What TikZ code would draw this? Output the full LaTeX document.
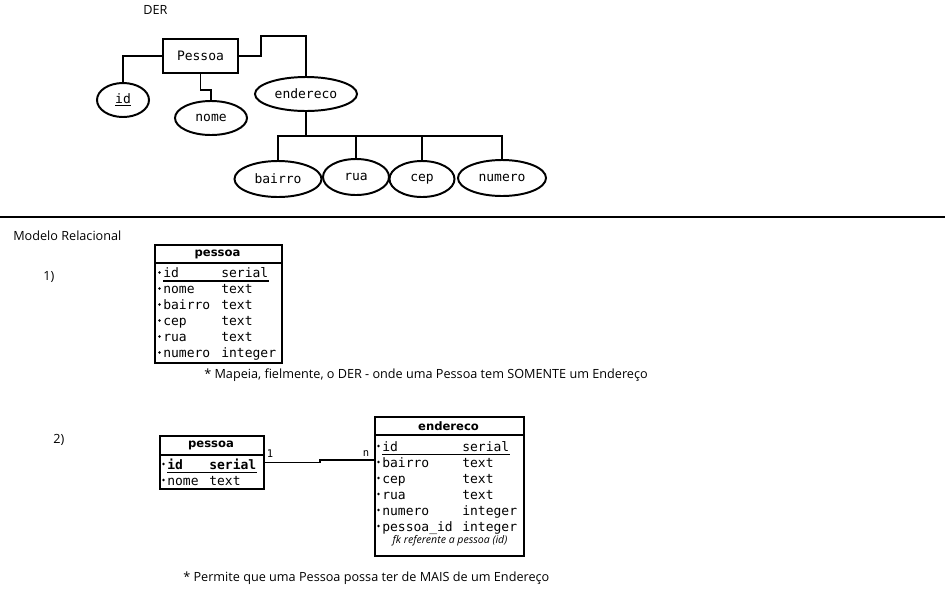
\documentclass[tikz,border=0pt]{standalone}
\usepackage{fontspec}
\setmainfont{Open Sans}
\newfontfamily\monofont{DejaVu Sans Mono}
\newfontfamily\headfont{DejaVu Sans}
\usetikzlibrary{positioning,calc,shapes.geometric}
\newcommand{\monosize}{\monofont\fontsize{9.25}{11}\selectfont}
\tikzset{
  erline/.style={line width=1.4pt},
  entitybox/.style={draw,line width=1.4pt,minimum width=1.875cm,minimum height=0.85cm,font=\monosize},
  attrell/.style={draw,ellipse,line width=1.4pt,minimum height=0.85cm,inner sep=0pt,font=\monosize},
  tableframe/.style={draw,line width=1.4pt,anchor=north west,inner sep=0pt},
  tablerule/.style={line width=1.4pt},
  tablehead/.style={font=\headfont\bfseries\fontsize{8.25}{10}\selectfont,inner sep=0pt},
  fieldname/.style={anchor=base west,inner sep=0pt,font=\monosize},
  keyline/.style={line width=0.75pt},
  fknote/.style={inner sep=0pt,font=\itshape\fontsize{7.5}{9}\selectfont},
  cardlabel/.style={inner sep=0pt,font=\monofont\fontsize{7.5}{9}\selectfont},
  plaintext/.style={anchor=west,inner sep=0pt,font=\fontsize{9}{11}\selectfont}
}

\begin{document}
\begin{tikzpicture}[x=0.025cm,y=-0.025cm]
  \useasboundingbox (0,0) rectangle (947,588);
  % DER
  \node[plaintext] (dertitle) at (143,10) {DER};
  \node[entitybox] (pessoa) at (200.5,56) {Pessoa};
  \node[attrell,minimum width=1.3cm] (id) at (123,100) {\underline{id}};
  \node[attrell,minimum width=1.8cm] (nome) at (211,118) {nome};
  \node[attrell,minimum width=2.55cm] (endereco) at (306,94) {endereco};
  \node[attrell,minimum width=2.175cm,minimum height=0.9cm] (bairro) at (278,179) {bairro};
  \node[attrell,minimum width=1.65cm,minimum height=0.9cm] (rua) at (356,177) {rua};
  \node[attrell,minimum width=1.625cm,minimum height=0.9cm] (cep) at (422,179) {cep};
  \node[attrell,minimum width=2.2cm,minimum height=0.9cm] (numero) at (502,178) {numero};
  \draw[erline] (pessoa.west) -| (id.north);
  \draw[erline] (pessoa.south) -- ++(0,16) -| (nome.north);
  \draw[erline] (pessoa.east) -- ++(22,0) -- ++(0,-20) -| (endereco.north);
  \coordinate (bus) at ($(endereco.south)+(0,24)$);
  \draw[erline] (endereco.south) -- (bus);
  \draw[erline] (bairro.north) |- (bus) -| (numero.north);
  \draw[erline] (rua.north) -- (rua.north |- bus);
  \draw[erline] (cep.north) -- (cep.north |- bus);

  \draw[line width=1.4pt] (0,217) -- (945,217);

  % Modelo Relacional
  \node[plaintext] (reltitle) at (13,236) {Modelo Relacional};
  \node[plaintext] (opt1) at (43,277) {1)};
  \node[plaintext] (opt2) at (53,440) {2)};

  % 1) uma tabela
  \node[tableframe,minimum width=3.175cm,minimum height=2.95cm] (ta) at (154,244) {};
  \node[tablehead] (tahead) at (217.5,254) {pessoa};
  \coordinate (tasep) at (154,263);
  \draw[tablerule] (tasep) -- (tasep -| ta.east);
  \foreach \fname/\ftype [count=\i from 0] in {id/serial,nome/text,bairro/text,cep/text,rua/text,numero/integer}{
    \node[fieldname] (taf\i) at (163,277.5+16*\i) {\fname};
    \node[fieldname] (tat\i) at (221,277.5+16*\i) {\ftype};
    \fill ($(taf\i.base west)+(-3.5,-5)$) circle (1.05pt);
  }
  \draw[keyline] ($(taf0.base west)+(0,3.5)$) -- ($(tat0.base east)+(0,3.5)$);
  \node[plaintext] (note1) at (204,375) {* Mapeia, fielmente, o DER - onde uma Pessoa tem SOMENTE um Endereço};

  % 2) duas tabelas
  \node[tableframe,minimum width=2.6cm,minimum height=1.325cm] (tb) at (159,435) {};
  \node[tablehead] (tbhead) at (211,445) {pessoa};
  \coordinate (tbsep) at (159,455);
  \draw[tablerule] (tbsep) -- (tbsep -| tb.east);
  \node[fieldname,font=\monosize\bfseries] (tbf0) at (167,469) {id};
  \node[fieldname,font=\monosize\bfseries] (tbt0) at (209,469) {serial};
  \node[fieldname] (tbf1) at (167,485) {nome};
  \node[fieldname] (tbt1) at (209,485) {text};
  \foreach \i in {0,1}{
    \fill ($(tbf\i.base west)+(-3.5,-5)$) circle (1.05pt);
  }
  \draw[keyline] ($(tbf0.base west)+(0,3.5)$) -- ($(tbt0.base east)+(0,3.5)$);

  \node[tableframe,minimum width=3.725cm,minimum height=3.475cm] (tc) at (374,416) {};
  \node[tablehead] (tchead) at (448.5,426) {endereco};
  \coordinate (tcsep) at (374,435);
  \draw[tablerule] (tcsep) -- (tcsep -| tc.east);
  \foreach \fname/\ftype [count=\i from 0] in {id/serial,bairro/text,cep/text,rua/text,numero/integer,pessoa\_id/integer}{
    \node[fieldname] (tcf\i) at (382,451+16*\i) {\fname};
    \node[fieldname] (tct\i) at (462,451+16*\i) {\ftype};
    \fill ($(tcf\i.base west)+(-3.5,-5)$) circle (1.05pt);
  }
  \draw[keyline] ($(tcf0.base west)+(0,3.5)$) -- ($(tct0.base east)+(0,3.5)$);
  \node[fknote] (tcfk) at (450,541) {fk referente a pessoa (id)};

  \coordinate (tcin) at (374,460);
  \draw[erline] (tb.east) -- ++(55,0) |- (tcin);
  \node[cardlabel] (card1) at (270,454) {1};
  \node[cardlabel] (cardn) at (366,454) {n};
  \node[plaintext] (note2) at (183,578) {* Permite que uma Pessoa possa ter de MAIS de um Endereço};
\end{tikzpicture}
\end{document}
